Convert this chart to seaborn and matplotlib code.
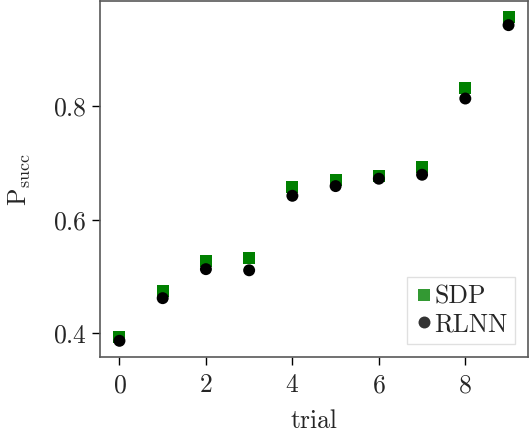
import numpy as np
import pandas as pd
import matplotlib
matplotlib.use("Agg")
import matplotlib.pyplot as plt
import seaborn as sns

# success probability per trial
trials = list(range(10))
sdp_vals = [0.394, 0.474, 0.528, 0.532, 0.657, 0.669, 0.677, 0.693, 0.832, 0.956]
rlnn_vals = [0.387, 0.462, 0.513, 0.511, 0.642, 0.659, 0.672, 0.679, 0.813, 0.942]
methods = ["SDP", "RLNN"]

df = pd.DataFrame({
    "trial": trials + trials,
    "P": sdp_vals + rlnn_vals,
    "method": [methods[0]] * len(trials) + [methods[1]] * len(trials),
})

sns.set_style("ticks")
plt.rcParams["font.family"] = "serif"
plt.rcParams["font.serif"] = ["cmr10"]
plt.rcParams["mathtext.fontset"] = "cm"
plt.rcParams["axes.formatter.use_mathtext"] = True

fig, ax = plt.subplots(figsize=(5.29, 4.37), dpi=100)
fig.subplots_adjust(left=100 / 529, right=528 / 529, top=1 - 1 / 437, bottom=1 - 357 / 437)

sns.scatterplot(data=df, x="trial", y="P", hue="method", style="method",
                markers={"SDP": "s", "RLNN": "o"},
                palette={"SDP": "green", "RLNN": "black"},
                s=74, linewidth=0, ax=ax)

ax.set_xticks([0, 2, 4, 6, 8])
ax.set_yticks([0.4, 0.6, 0.8])
ax.tick_params(labelsize=18.5, length=6, width=1, color="black")
ax.tick_params(axis="x", pad=6)
ax.set_xlabel("trial", fontsize=18.5, labelpad=8.5)
ax.set_ylabel(r"$\mathrm{P}_{\mathrm{succ}}$", fontsize=18.5, labelpad=14)
for sp in ax.spines.values():
    sp.set_color("0.35")
    sp.set_linewidth(1.2)

leg = ax.legend(loc="lower right", fontsize=18.5, fancybox=False, frameon=True,
                handletextpad=0.0, handlelength=0.75, borderpad=0.3,
                labelspacing=0.15, borderaxespad=0.5, markerscale=1.0)
leg.get_frame().set_edgecolor("0.85")
for h in leg.legend_handles:
    h.set_alpha(0.8)

fig.savefig("out.png", dpi=100)
